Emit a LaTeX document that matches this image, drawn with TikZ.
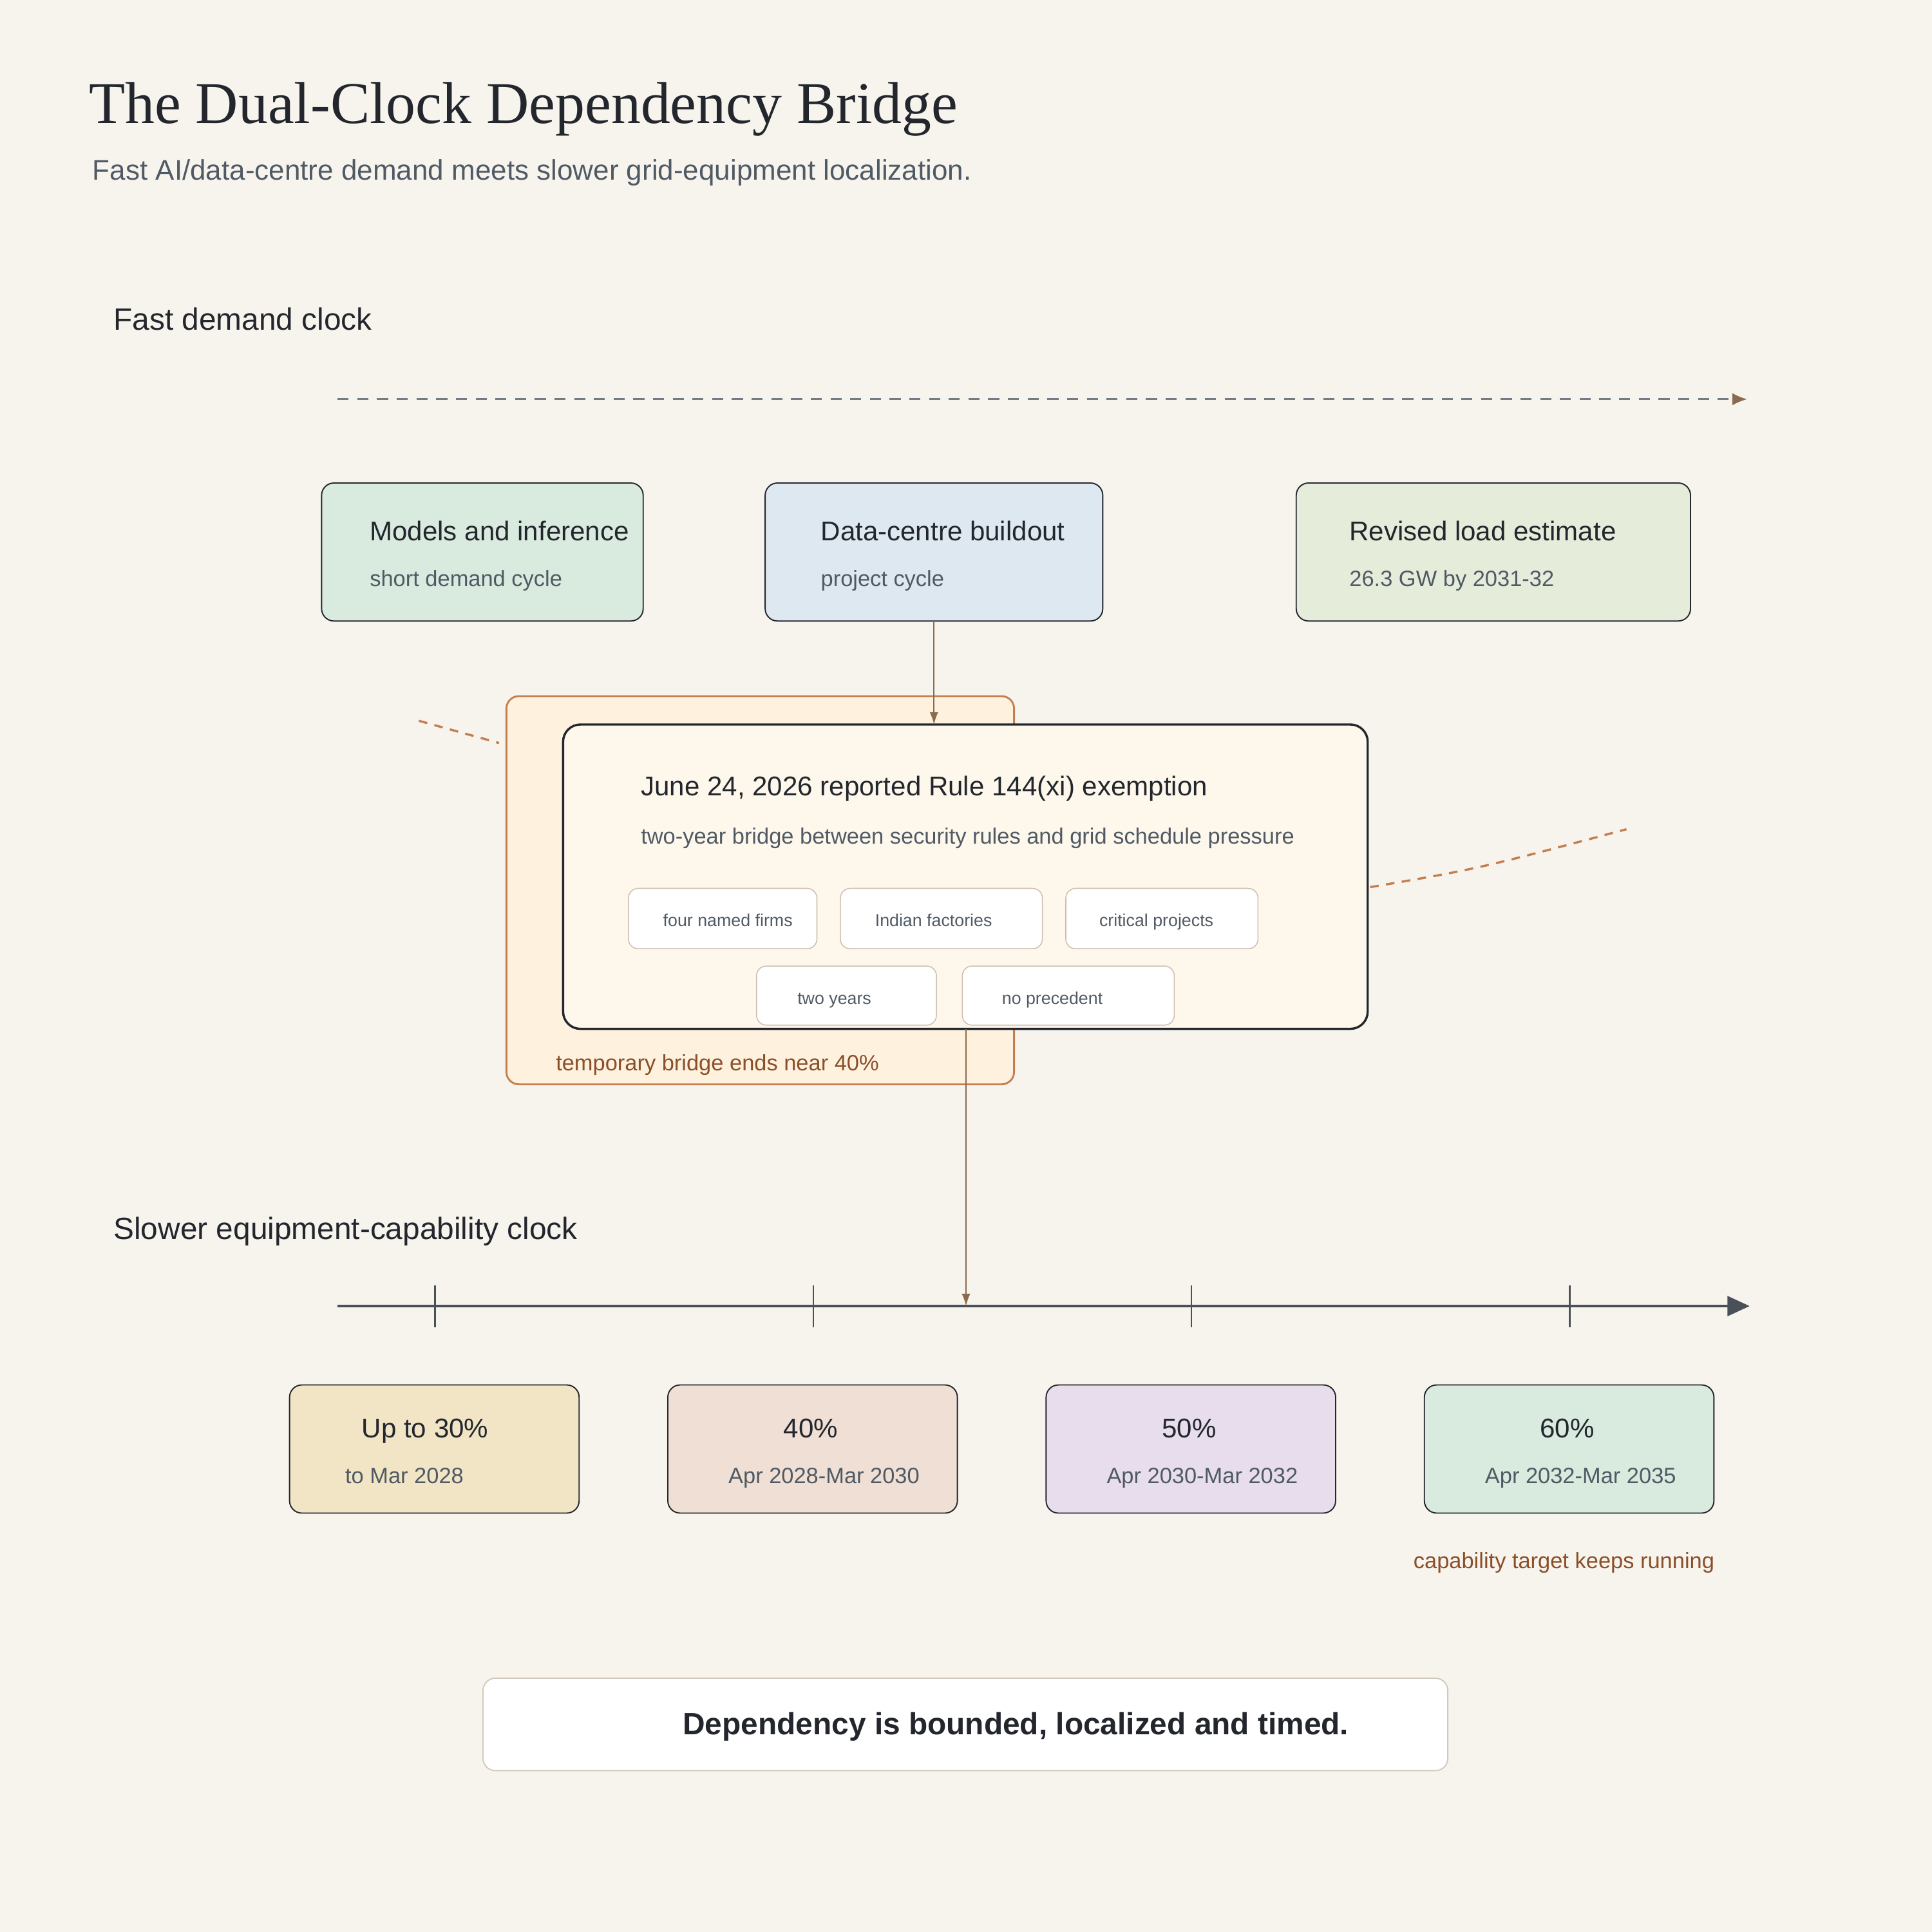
\documentclass[tikz,border=0pt]{standalone}
\usepackage{fontspec}
\setmainfont{Liberation Sans}
\newfontfamily\titlefont{Liberation Serif}
\usetikzlibrary{arrows.meta}
\definecolor{bg}{HTML}{F7F4EE}
\definecolor{ink}{HTML}{23272D}
\definecolor{grayt}{HTML}{505A64}
\definecolor{brn}{HTML}{8B6A4E}
\definecolor{org}{HTML}{C47E50}
\definecolor{orgt}{HTML}{8B4F2A}
\definecolor{axis}{HTML}{4A5058}
\definecolor{chipb}{HTML}{CDBFB0}
\definecolor{fgreen}{HTML}{D9EADF}
\definecolor{fblue}{HTML}{DDE8F0}
\definecolor{folive}{HTML}{E6ECDA}
\definecolor{forg}{HTML}{FEF1DE}
\definecolor{fmain}{HTML}{FEF8EC}
\definecolor{fsand}{HTML}{F2E5C6}
\definecolor{fpink}{HTML}{EFDFD4}
\definecolor{fpurp}{HTML}{E7DDED}
\definecolor{fbord}{HTML}{D2C9BC}
\newcommand{\fs}[1]{\fontsize{#1}{#1}\selectfont}
\begin{document}
\begin{tikzpicture}[x=1pt,y=-1pt,
 txt/.style={anchor=base west,inner sep=0pt,text=ink},
 box/.style={draw=ink,line width=1pt,rounded corners=10pt},
 chip/.style={draw=chipb,fill=white,line width=0.8pt,rounded corners=8pt},
 ctext/.style={anchor=base west,inner sep=0pt,text=grayt,font=\fs{14}},
 btitle/.style={txt,font=\fs{22}},
 bsub/.style={txt,text=grayt,font=\fs{18}},
 link/.style={draw=brn,line width=1.2pt,-{Latex[length=10pt,width=7pt]}}]
\fill[bg] (0,0) rectangle (1568,1568);
\useasboundingbox (0,0) rectangle (1568,1568);
\node[txt,font=\titlefont\fs{48}] (title) at (72,100) {The Dual-Clock Dependency Bridge};
\node[txt,text=grayt,font=\fs{23}] (sub) at (75,146) {Fast AI/data-centre demand meets slower grid-equipment localization.};
\node[txt,font=\fs{25}] (fast) at (92,268) {Fast demand clock};
\coordinate (fa) at (274,324); \coordinate (fb) at (1418,324);
\draw[draw=grayt!80,line width=1.5pt,dash pattern=on 9pt off 7pt,-{Latex[length=12pt,width=10pt,color=brn]}] (fa)--(fb);
% top boxes
\draw[box,fill=fgreen] (261,392) rectangle (522,504);
\node[btitle] (m1) at (300,439) {Models and inference};
\node[bsub] (m2) at (300,476) {short demand cycle};
\draw[box,fill=fblue] (621,392) rectangle (895,504);
\coordinate (dcb) at (758,504);
\node[btitle] (d1) at (666,439) {Data-centre buildout};
\node[bsub] (d2) at (666,476) {project cycle};
\draw[box,fill=folive] (1052,392) rectangle (1372,504);
\node[btitle] (r1) at (1095,439) {Revised load estimate};
\node[bsub] (r2) at (1095,476) {26.3 GW by 2031-32};
% orange bridge
\draw[org,line width=1.5pt,fill=forg,rounded corners=10pt] (411,565) rectangle (823,880);
\node[txt,text=orgt,font=\fs{18}] (tb) at (451,869) {temporary bridge ends near 40\%};
\coordinate (o1) at (340,585); \coordinate (o2) at (405,603);
\coordinate (o3) at (1112,720); \coordinate (o4) at (1320,673);
\draw[org,line width=1.8pt,dash pattern=on 7pt off 6pt] (o1)--(o2);
\draw[org,line width=1.8pt,dash pattern=on 7pt off 6pt] (o3) .. controls (1200,705) .. (o4);
% main box
\draw[draw=ink,line width=1.8pt,fill=fmain,rounded corners=14pt] (457,588) rectangle (1110,835);
\coordinate (mt) at (758,588); \coordinate (mb) at (784,835);
\node[btitle] (j1) at (520,646) {June 24, 2026 reported Rule 144(xi) exemption};
\node[bsub] (j2) at (520,685) {two-year bridge between security rules and grid schedule pressure};
\draw[chip] (510,721) rectangle (663,770); \node[ctext] (c1) at (538,752) {four named firms};
\draw[chip] (682,721) rectangle (846,770); \node[ctext] (c2) at (710,752) {Indian factories};
\draw[chip] (865,721) rectangle (1021,770); \node[ctext] (c3) at (892,752) {critical projects};
\draw[chip] (614,784) rectangle (760,832); \node[ctext] (c4) at (647,815) {two years};
\draw[chip] (781,784) rectangle (953,832); \node[ctext] (c5) at (813,815) {no precedent};
\draw[link] (dcb)--(mt);
% slow clock
\node[txt,font=\fs{25}] (slow) at (92,1006) {Slower equipment-capability clock};
\coordinate (aa) at (274,1060); \coordinate (ab) at (1420,1060);
\coordinate (ah) at (784,1060);
\draw[axis,line width=2.2pt,-{Triangle[length=18pt,width=16pt]}] (aa)--(ab);
\foreach \x in {353,660,967,1274} \draw[axis,line width=1.3pt] (\x,1043)--(\x,1077);
\draw[link] (mb)--(ah);
% bottom boxes
\draw[box,fill=fsand] (235,1124) rectangle (470,1228);
\node[btitle,anchor=base] (p1) at (345,1167) {Up to 30\%};
\node[bsub] (q1) at (280,1204) {to Mar 2028};
\draw[box,fill=fpink] (542,1124) rectangle (777,1228);
\node[btitle,anchor=base] (p2) at (658,1167) {40\%};
\node[bsub] (q2) at (591,1204) {Apr 2028-Mar 2030};
\draw[box,fill=fpurp] (849,1124) rectangle (1084,1228);
\node[btitle,anchor=base] (p3) at (965,1167) {50\%};
\node[bsub] (q3) at (898,1204) {Apr 2030-Mar 2032};
\draw[box,fill=fgreen] (1156,1124) rectangle (1391,1228);
\node[btitle,anchor=base] (p4) at (1272,1167) {60\%};
\node[bsub] (q4) at (1205,1204) {Apr 2032-Mar 2035};
\node[txt,text=orgt,font=\fs{18}] (ck) at (1147,1273) {capability target keeps running};
% footer
\draw[draw=fbord,line width=1pt,fill=white,rounded corners=10pt] (392,1362) rectangle (1175,1437);
\node[txt,font=\bfseries\fs{25}] (ft) at (554,1408) {Dependency is bounded, localized and timed.};
\end{tikzpicture}
\end{document}
